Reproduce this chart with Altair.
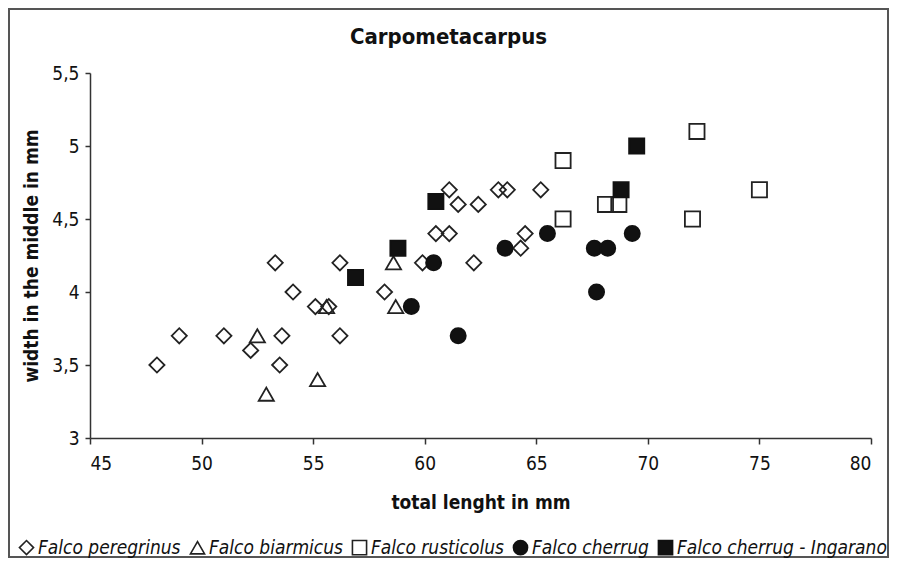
import altair as alt
import pandas as pd

FONT = "DejaVu Sans Condensed, DejaVu Sans"

chart_title = "Carpometacarpus"
series_names = [
    "Falco peregrinus",
    "Falco biarmicus",
    "Falco rusticolus",
    "Falco cherrug",
    "Falco cherrug - Ingarano",
]

peregrinus_x = [48.0, 49.0, 51.0, 52.2, 53.5, 53.6, 53.3, 54.1, 55.1, 55.7, 56.2, 56.2, 58.2,
                59.9, 62.2, 60.5, 61.1, 61.1, 61.5, 62.4, 63.3, 63.7, 65.2, 64.5, 64.3]
peregrinus_y = [3.5, 3.7, 3.7, 3.6, 3.5, 3.7, 4.2, 4.0, 3.9, 3.9, 4.2, 3.7, 4.0,
                4.2, 4.2, 4.4, 4.4, 4.7, 4.6, 4.6, 4.7, 4.7, 4.7, 4.4, 4.3]

biarmicus_x = [52.5, 52.9, 55.2, 55.6, 58.6, 58.7]
biarmicus_y = [3.7, 3.3, 3.4, 3.9, 4.2, 3.9]

rusticolus_x = [66.2, 66.2, 68.1, 68.7, 72.2, 75.0, 72.0]
rusticolus_y = [4.9, 4.5, 4.6, 4.6, 5.1, 4.7, 4.5]

cherrug_x = [59.4, 60.4, 61.5, 63.6, 65.5, 67.6, 68.2, 67.7, 69.3]
cherrug_y = [3.9, 4.2, 3.7, 4.3, 4.4, 4.3, 4.3, 4.0, 4.4]

ingarano_x = [56.9, 58.8, 60.5, 68.8, 69.5]
ingarano_y = [4.1, 4.3, 4.62, 4.7, 5.0]

x_ticks = [45, 50, 55, 60, 65, 70, 75, 80]
y_ticks = [3, 3.5, 4, 4.5, 5, 5.5]

rows = []
for i, (name, xs, ys) in enumerate(zip(
    series_names,
    [peregrinus_x, biarmicus_x, rusticolus_x, cherrug_x, ingarano_x],
    [peregrinus_y, biarmicus_y, rusticolus_y, cherrug_y, ingarano_y],
)):
    for xv, yv in zip(xs, ys):
        rows.append({"species": name, "length": xv, "width": yv, "idx": i})
df = pd.DataFrame(rows)

shapes = ["diamond", "triangle-up", "square", "circle", "square"]
fills = ["transparent", "transparent", "transparent", "#111", "#111"]
strokes = ["#222", "#222", "#222", "#111", "#111"]

legend_cfg = dict(
    title=None, orient="none", direction="horizontal", columns=5,
    legendX=-73, legendY=465, labelFont=FONT, labelFontStyle="italic",
    labelFontSize=19, labelColor="#111", symbolSize=200,
    symbolStrokeWidth=1.6, labelLimit=400,
    columnPadding=6, labelOffset=2, padding=0,
)

points = alt.Chart(df).mark_point(
    filled=False, size=230, strokeWidth=1.8, opacity=1
).encode(
    x=alt.X(
        "length:Q",
        scale=alt.Scale(domain=[45, 80], nice=False, zero=False),
        axis=alt.Axis(
            title="total lenght in mm", values=x_ticks, grid=False,
            tickSize=6, labelPadding=10, titleX=390.5, titleY=70,
            titleBaseline="alphabetic",
        ),
    ),
    y=alt.Y(
        "width:Q",
        scale=alt.Scale(domain=[3, 5.5], nice=False, zero=False),
        axis=alt.Axis(
            title="width in the middle in mm", values=y_ticks, grid=False,
            tickSize=5, labelPadding=6, format="~g",
            labelExpr="replace(datum.label, '.', ',')",
            titleX=-53, titleY=182.5, titleBaseline="alphabetic",
        ),
    ),
    shape=alt.Shape(
        "species:N",
        scale=alt.Scale(domain=series_names, range=shapes),
        legend=alt.Legend(**legend_cfg),
    ),
    fill=alt.Fill(
        "species:N",
        scale=alt.Scale(domain=series_names, range=fills),
        legend=alt.Legend(**legend_cfg),
    ),
    stroke=alt.Stroke(
        "species:N",
        scale=alt.Scale(domain=series_names, range=strokes),
        legend=alt.Legend(**legend_cfg),
    ),
    order=alt.Order("idx:Q"),
)

frame = alt.Chart(pd.DataFrame({"k": [0]})).mark_rect(
    fill="transparent", stroke="#555", strokeWidth=2
).encode(
    x=alt.value(-81), x2=alt.value(798), y=alt.value(-64), y2=alt.value(484)
)

title_mark = alt.Chart(pd.DataFrame({"t": [chart_title]})).mark_text(
    font=FONT, fontSize=22, fontWeight="bold", color="#111",
    align="center", baseline="alphabetic",
).encode(
    text="t:N", x=alt.value(358.5), y=alt.value(-29)
)

chart = alt.layer(frame, points, title_mark).properties(
    width=781,
    height=365,
    autosize=alt.AutoSizeParams(type="none"),
    padding={"left": 82, "top": 65, "right": 18, "bottom": 120},
).configure_view(stroke=None).configure_axis(
    labelFont=FONT, labelFontSize=19, labelColor="#111",
    titleFont=FONT, titleFontSize=19, titleFontWeight="bold", titleColor="#111",
    domainColor="#333", domainWidth=1.5, tickColor="#333", tickWidth=1.5,
)

chart.save("out.html", embed_options={"renderer": "svg", "actions": False})
